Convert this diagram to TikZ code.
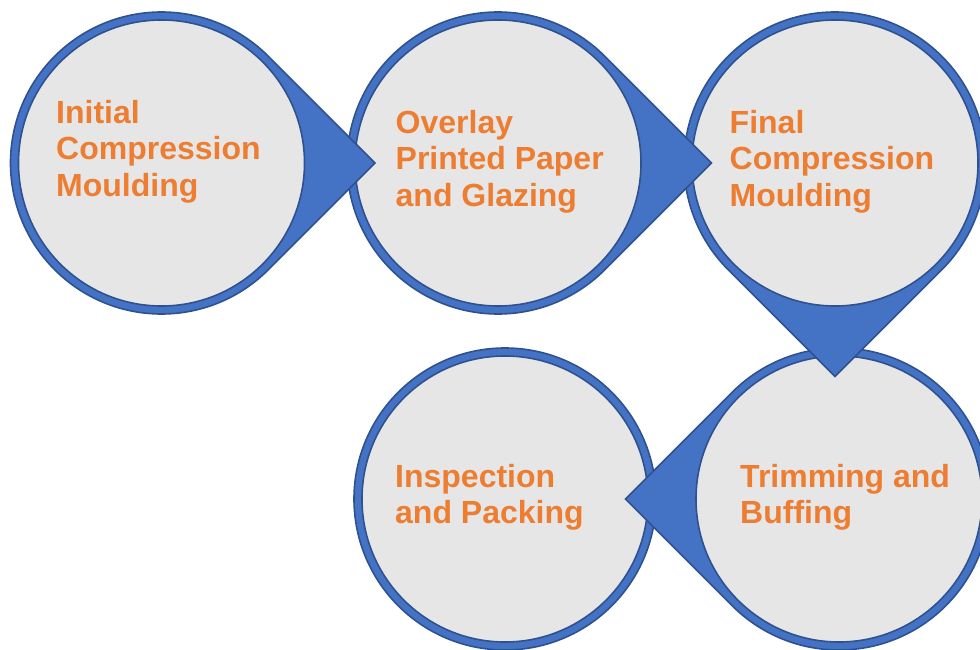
\documentclass[tikz,border=0pt]{standalone}
\usepackage{fontspec}
\setmainfont{Liberation Sans}
\definecolor{tearblue}{HTML}{4472C4}
\definecolor{edgeblue}{HTML}{2F528F}
\definecolor{disc}{HTML}{E7E6E6}
\definecolor{txtorange}{HTML}{ED7D31}
\tikzset{
  teardrop/.style={fill=tearblue, draw=edgeblue, line width=1.6pt, line join=miter},
  disk/.style={circle, fill=disc, draw=edgeblue, line width=1.6pt, minimum size=286pt, inner sep=0pt},
  steptext/.style={anchor=north west, inner sep=0pt, align=left, text=txtorange,
    font=\fontsize{32}{36.5}\selectfont\bfseries}
}
% #1,#2 centre, #3 direction of the tip
\newcommand\teardropat[3]{%
  \path[teardrop, shift={(#1pt,#2pt)}] (#3+45:151pt)
    arc[start angle=#3+45, end angle=#3+315, radius=151pt] -- (#3:213.5pt) -- cycle;}
\begin{document}
\begin{tikzpicture}[x=1pt,y=1pt]
\useasboundingbox (0,0) rectangle (980,649);
\clip (0,0) rectangle (980,649);
% step 5
\path[teardrop] (505,150) circle[radius=151];
\node[disk] (c5) at (505,150) {};
\node[steptext] (t5) at (395,185) {Inspection\\and Packing};
% step 4
\teardropat{839}{150}{180}
\node[disk] (c4) at (839,150) {};
\node[steptext] (t4) at (740,185) {Trimming and\\Buffing};
% step 3
\teardropat{835}{486}{-90}
\node[disk] (c3) at (835,486) {};
\node[steptext] (t3) at (729.5,539) {Final\\Compression\\Moulding};
% step 2
\teardropat{498}{486}{0}
\node[disk] (c2) at (498,486) {};
\node[steptext] (t2) at (395.5,539) {Overlay\\Printed Paper\\and Glazing};
% step 1
\teardropat{161.5}{486}{0}
\node[disk] (c1) at (161.5,486) {};
\node[steptext] (t1) at (56,549) {Initial\\Compression\\Moulding};
\end{tikzpicture}
\end{document}
